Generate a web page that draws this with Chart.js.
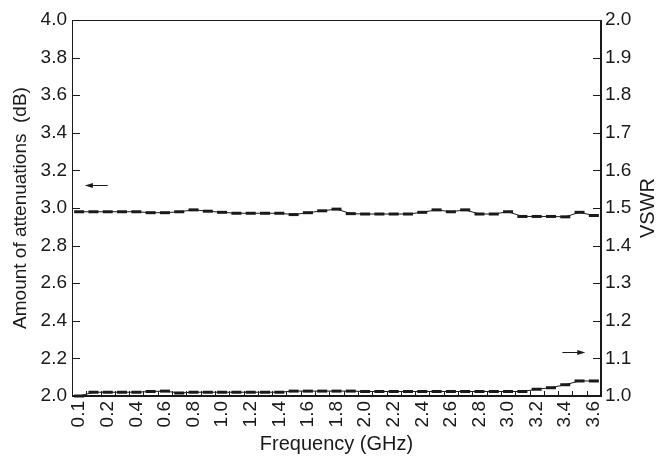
<!DOCTYPE html>
<html>
<head>
<meta charset="utf-8">
<script src="https://cdn.jsdelivr.net/npm/chart.js@4/dist/chart.umd.min.js"></script>
<style>
  body { margin: 0; background: #fff; }
  canvas { display: block; }
</style>
</head>
<body>
<canvas id="atten_chart" width="666" height="456"></canvas>
<script>
// frequency categories (GHz), only every other one is labelled
const freqLabels = ['0.1', '', '0.2', '', '0.4', '', '0.6', '', '0.8', '', '1.0', '', '1.2', '', '1.4', '', '1.6', '', '1.8',
    '', '2.0', '', '2.2', '', '2.4', '', '2.6', '', '2.8', '', '3.0', '', '3.2', '', '3.4', '', '3.6'];

// amount of attenuation (dB), left axis
const attenuation = [2.98, 2.98, 2.98, 2.98, 2.98, 2.975, 2.975, 2.98, 2.99, 2.983, 2.977, 2.972, 2.972, 2.972, 2.972,
    2.965, 2.975, 2.985, 2.994, 2.97, 2.968, 2.968, 2.968, 2.968, 2.977, 2.99, 2.98, 2.99, 2.968, 2.968, 2.98,
    2.955, 2.955, 2.955, 2.953, 2.977, 2.96];

// VSWR, right axis
const vswr = [1.0, 1.01, 1.01, 1.01, 1.01, 1.012, 1.013, 1.008, 1.01, 1.01, 1.01, 1.01, 1.01, 1.01, 1.01,
    1.013, 1.013, 1.013, 1.013, 1.013, 1.012, 1.012, 1.012, 1.012, 1.012, 1.012, 1.012, 1.012, 1.012, 1.012,
    1.012, 1.012, 1.018, 1.022, 1.03, 1.04, 1.04];

const ink = '#1a1a1a';
const font = 'Liberation Sans, Arial, Helvetica, sans-serif';

// frame, inward ticks, arrows and the right title
const extras = {
    id: 'extras',
    afterDraw(chart) {
        const c = chart.ctx;
        const a = chart.chartArea;
        const x = chart.scales.x, yL = chart.scales.y, yR = chart.scales.y1;
        c.save();
        c.strokeStyle = ink;
        c.fillStyle = ink;
        c.lineWidth = 1;
        c.strokeRect(a.left + 0.5, a.top + 0.5, a.right - a.left - 1, a.bottom - a.top - 1);

        c.beginPath();
        yL.ticks.forEach(t => {
            const py = Math.round(yL.getPixelForValue(t.value)) + 0.5;
            c.moveTo(a.left, py); c.lineTo(a.left + 8, py);
        });
        yR.ticks.forEach(t => {
            const py = Math.round(yR.getPixelForValue(t.value)) + 0.5;
            c.moveTo(a.right, py); c.lineTo(a.right - 8, py);
        });
        for (let i = 1; i < freqLabels.length; i++) {
            const px = Math.round((x.getPixelForValue(i - 1) + x.getPixelForValue(i)) / 2) + 0.5;
            c.moveTo(px, a.bottom); c.lineTo(px, a.bottom - 5);
        }
        c.stroke();

        const arrow = (x0, x1, y) => {
            const dir = Math.sign(x1 - x0);
            c.beginPath();
            c.moveTo(x0, y); c.lineTo(x1 - dir * 6, y);
            c.stroke();
            c.beginPath();
            c.moveTo(x1, y); c.lineTo(x1 - dir * 8, y - 2.5); c.lineTo(x1 - dir * 8, y + 2.5);
            c.closePath();
            c.fill();
        };
        arrow(x.getPixelForValue(2.0), x.getPixelForValue(0.4), Math.round(yL.getPixelForValue(3.12)) + 0.5);
        arrow(x.getPixelForValue(33.8), x.getPixelForValue(35.4), Math.round(yR.getPixelForValue(1.117)) + 0.5);

        c.translate(648, (a.top + a.bottom) / 2);
        c.rotate(-Math.PI / 2);
        c.font = '20px ' + font;
        c.textAlign = 'center';
        c.textBaseline = 'middle';
        c.fillText('VSWR', 0, 0);
        c.restore();
    }
};

const ctx = document.getElementById('atten_chart').getContext('2d');

new Chart(ctx, {
    type: 'line',
    data: {
        labels: freqLabels,
        datasets: [{
            label: 'Attenuation',
            data: attenuation,
            yAxisID: 'y',
            borderColor: ink,
            borderWidth: 1,
            pointStyle: 'line',
            pointRadius: 5,
            pointBorderWidth: 3,
            pointBorderColor: ink,
            tension: 0,
            clip: false
        }, {
            label: 'VSWR',
            data: vswr,
            yAxisID: 'y1',
            borderColor: ink,
            borderWidth: 1,
            pointStyle: 'line',
            pointRadius: 5,
            pointBorderWidth: 3,
            pointBorderColor: ink,
            tension: 0,
            clip: false
        }]
    },
    options: {
        responsive: false,
        animation: false,
        devicePixelRatio: 1,
        layout: { padding: { top: 20, right: 0, left: 0, bottom: 0 } },
        plugins: {
            legend: { display: false },
            tooltip: { enabled: false }
        },
        scales: {
            x: {
                offset: true,
                grid: { display: false, drawTicks: false },
                border: { display: true, color: ink },
                ticks: {
                    color: ink,
                    font: { family: font, size: 19 },
                    autoSkip: false,
                    minRotation: 90,
                    maxRotation: 90,
                    padding: 5,
                    callback: (v, i) => freqLabels[i]
                },
                title: {
                    display: true,
                    text: 'Frequency (GHz)',
                    color: ink,
                    font: { family: font, size: 20 },
                    padding: { top: 0, bottom: 0 }
                },
                afterFit(s) { s.height = 60; }
            },
            y: {
                position: 'left',
                min: 2.0,
                max: 4.0,
                grid: { display: false, drawTicks: false },
                border: { display: true, color: ink },
                ticks: {
                    stepSize: 0.2,
                    color: ink,
                    font: { family: font, size: 19 },
                    padding: 5,
                    callback: v => v.toFixed(1)
                },
                title: {
                    display: true,
                    text: 'Amount of attenuations  (dB)',
                    color: ink,
                    font: { family: font, size: 19 },
                    padding: { top: 9, bottom: 0 }
                },
                afterFit(s) { s.width = 72; }
            },
            y1: {
                position: 'right',
                min: 1.0,
                max: 2.0,
                grid: { display: false, drawTicks: false },
                border: { display: true, color: ink },
                ticks: {
                    stepSize: 0.1,
                    color: ink,
                    font: { family: font, size: 19 },
                    padding: 4,
                    callback: v => v.toFixed(1)
                },
                afterFit(s) { s.width = 65; }
            }
        }
    },
    plugins: [extras]
});
</script>
</body>
</html>
